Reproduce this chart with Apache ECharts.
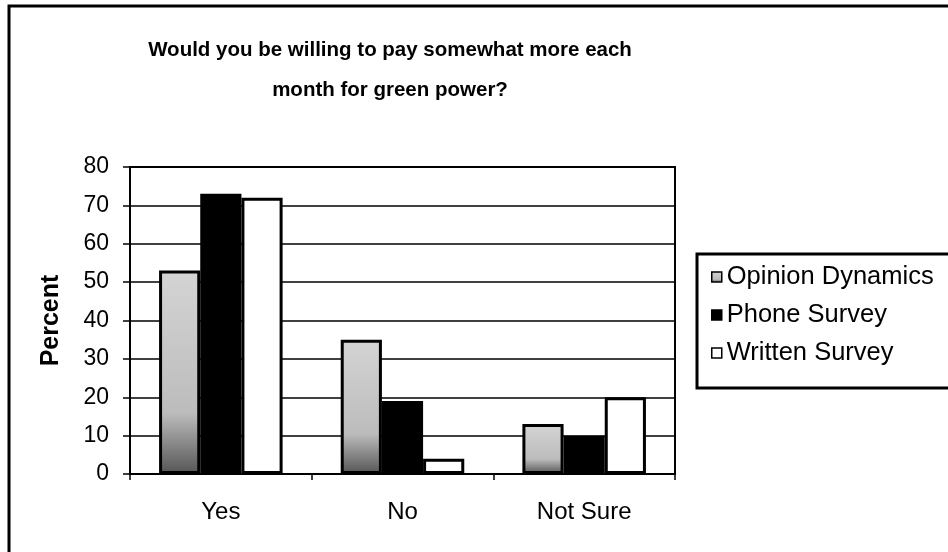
<!DOCTYPE html>
<html>
<head>
<meta charset="utf-8">
<script src="https://cdn.jsdelivr.net/npm/echarts@6/dist/echarts.min.js"></script>
<style>
  html, body { margin: 0; padding: 0; background: #fff; }
  #chart { width: 948px; height: 552px; }
</style>
</head>
<body>
<div id="chart"></div>
<script>
// Survey responses (percent)
const categories = ['Yes', 'No', 'Not Sure'];
const opinionDynamics = [53, 35, 13];
const phoneSurvey = [73, 19, 10];
const writtenSurvey = [72, 4, 20];
const seriesNames = ['Opinion Dynamics', 'Phone Survey', 'Written Survey'];
const yTicks = { min: 0, max: 80, interval: 10 };

const FONT = '"Liberation Sans", Arial, sans-serif';

const chart = echarts.init(document.getElementById('chart'), null, { renderer: 'canvas' });

// light speckled gray that darkens toward the base
const speckledGray = new echarts.graphic.LinearGradient(0, 0, 0, 1, [
  { offset: 0, color: '#d4d4d4' },
  { offset: 0.7, color: '#bcbcbc' },
  { offset: 1, color: '#555555' }
]);

const barBorder = { borderColor: '#000', borderWidth: 3 };

chart.setOption({
  animation: false,
  backgroundColor: '#fff',
  textStyle: { fontFamily: FONT },
  graphic: [
    // outer chart frame
    { type: 'rect', shape: { x: 9, y: 6, width: 960, height: 560 },
      style: { fill: null, stroke: '#000', lineWidth: 3 }, silent: true, z: 0 },
    { type: 'text', x: 390, y: 50,
      style: { text: 'Would you be willing to pay somewhat more each', font: 'bold 20.5px ' + FONT,
               fill: '#000', textAlign: 'center', textVerticalAlign: 'middle' } },
    { type: 'text', x: 390, y: 90,
      style: { text: 'month for green power?', font: 'bold 20.5px ' + FONT,
               fill: '#000', textAlign: 'center', textVerticalAlign: 'middle' } }
  ],
  legend: {
    orient: 'vertical',
    left: 697,
    top: 254,
    data: seriesNames,
    icon: 'rect',
    itemWidth: 10,
    itemHeight: 10,
    itemGap: 12,
    itemStyle: { borderWidth: 1.5, borderColor: '#000' },
    padding: [10, 60, 22, 14],
    borderColor: '#000',
    borderWidth: 3,
    textStyle: { fontFamily: FONT, fontSize: 25.5, color: '#000', lineHeight: 25 }
  },
  grid: {
    left: 130, right: 273, top: 167, bottom: 78,
    show: true, borderColor: '#000', borderWidth: 2
  },
  xAxis: {
    type: 'category',
    data: categories,
    axisLine: { lineStyle: { color: '#000', width: 2 } },
    axisTick: { show: true, length: 6, lineStyle: { color: '#000', width: 1.5 } },
    axisLabel: { color: '#000', fontSize: 24, fontFamily: FONT, margin: 26 }
  },
  yAxis: {
    type: 'value',
    min: yTicks.min, max: yTicks.max, interval: yTicks.interval,
    name: 'Percent',
    nameLocation: 'middle',
    nameGap: 66,
    nameTextStyle: { fontSize: 25, fontWeight: 'bold', color: '#000', fontFamily: FONT },
    axisLine: { show: true, lineStyle: { color: '#000', width: 2 } },
    axisTick: { show: true, length: 7, lineStyle: { color: '#000', width: 1.5 } },
    axisLabel: { color: '#000', fontSize: 23, fontFamily: FONT, margin: 21 },
    splitLine: { lineStyle: { color: '#000', width: 1.5 } }
  },
  series: [
    { name: seriesNames[0], type: 'bar', data: opinionDynamics,
      barGap: '0%', barCategoryGap: '32%',
      itemStyle: Object.assign({ color: speckledGray }, barBorder) },
    { name: seriesNames[1], type: 'bar', data: phoneSurvey,
      itemStyle: Object.assign({ color: '#000' }, barBorder) },
    { name: seriesNames[2], type: 'bar', data: writtenSurvey,
      itemStyle: Object.assign({ color: '#fff' }, barBorder) }
  ]
});
</script>
</body>
</html>
